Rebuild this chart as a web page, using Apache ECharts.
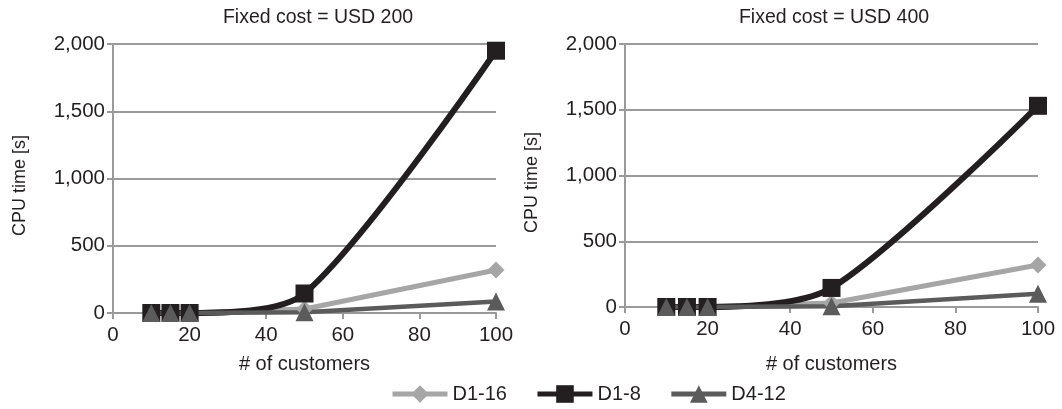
<!DOCTYPE html>
<html>
<head>
<meta charset="utf-8">
<script src="https://cdn.jsdelivr.net/npm/echarts@6/dist/echarts.min.js"></script>
<style>
html,body{margin:0;padding:0;background:#fff;}
#c{width:1062px;height:409px;}
</style>
</head>
<body>
<div id="c"></div>
<script>
var customers = [10, 15, 20, 50, 100];
var titles = ['Fixed cost = USD 200', 'Fixed cost = USD 400'];
var seriesNames = ['D1-16', 'D1-8', 'D4-12'];
var d116_200 = [0, 0, 0, 30, 320];
var d18_200 = [0, 0, 0, 145, 1950];
var d412_200 = [0, 0, 0, 5, 85];
var d116_400 = [0, 0, 0, 30, 320];
var d18_400 = [0, 0, 0, 145, 1530];
var d412_400 = [0, 0, 0, 5, 100];
var xTicks = [0, 20, 40, 60, 80, 100];
var yTicks = [0, 500, 1000, 1500, 2000];

var FONT = '"Liberation Sans", Arial, sans-serif';
var TXT = '#231f20';
var GRID = '#9a9a9a';
var colors = ['#a6a6a6', '#231f20', '#5b5b5b'];
var symbols = ['diamond', 'rect', 'triangle'];
var symSizes = [17, 18, 18];
var widths = [5, 6, 4.5];

function pairs(vals) { return customers.map(function (c, i) { return [c, vals[i]]; }); }

var panels = [[d116_200, d18_200, d412_200], [d116_400, d18_400, d412_400]];

var grids = [
  { left: 113, right: 566, top: 44, bottom: 96 },
  { left: 625, right: 24, top: 44, bottom: 102 }
];

var xAxes = [], yAxes = [], series = [];
for (var g = 0; g < 2; g++) {
  xAxes.push({
    type: 'value', gridIndex: g, min: xTicks[0], max: xTicks[xTicks.length - 1], interval: 20,
    name: '# of customers', nameLocation: 'middle', nameGap: g === 0 ? 41 : 47,
    nameTextStyle: { fontFamily: FONT, fontSize: 20, color: TXT },
    axisLine: { show: true, lineStyle: { color: GRID, width: 2 } },
    axisTick: { show: true, length: 6, lineStyle: { color: GRID, width: 2 } },
    axisLabel: { fontFamily: FONT, fontSize: 20.5, color: TXT, margin: 12 },
    splitLine: { show: false }
  });
  yAxes.push({
    type: 'value', gridIndex: g, min: yTicks[0], max: yTicks[yTicks.length - 1], interval: 500,
    name: 'CPU time [s]', nameLocation: 'middle', nameGap: 84, nameRotate: 90,
    nameTextStyle: { fontFamily: FONT, fontSize: 18, color: TXT, padding: [0, 14, 0, 0] },
    axisLine: { show: true, lineStyle: { color: GRID, width: 2 } },
    axisTick: { show: true, length: 6, lineStyle: { color: GRID, width: 2 } },
    axisLabel: {
      fontFamily: FONT, fontSize: 20.5, color: TXT, margin: 8,
      formatter: function (v) { return v.toLocaleString('en-US'); }
    },
    splitLine: { show: true, lineStyle: { color: GRID, width: 2 } }
  });
  for (var s = 0; s < 3; s++) {
    series.push({
      name: seriesNames[s], type: 'line', xAxisIndex: g, yAxisIndex: g,
      data: pairs(panels[g][s]),
      smooth: s === 1 ? 0.27 : false,
      symbol: symbols[s], symbolSize: symSizes[s], showSymbol: true,
      lineStyle: { color: colors[s], width: widths[s] },
      itemStyle: { color: colors[s] },
      animation: false
    });
  }
}

var chart = echarts.init(document.getElementById('c'), null, { renderer: 'canvas' });
chart.setOption({
  backgroundColor: '#fff',
  animation: false,
  title: [
    { text: titles[0], left: 313, top: 3, textAlign: 'center', textStyle: { fontFamily: FONT, fontSize: 19.5, fontWeight: 'normal', color: TXT } },
    { text: titles[1], left: 829, top: 3, textAlign: 'center', textStyle: { fontFamily: FONT, fontSize: 19.5, fontWeight: 'normal', color: TXT } }
  ],
  legend: {
    data: seriesNames, bottom: 0, left: 385, itemWidth: 55, itemHeight: 22, itemGap: 28,
    lineStyle: { width: 5 },
    textStyle: { fontFamily: FONT, fontSize: 20, color: TXT }
  },
  grid: grids,
  xAxis: xAxes,
  yAxis: yAxes,
  series: series
});
</script>
</body>
</html>
